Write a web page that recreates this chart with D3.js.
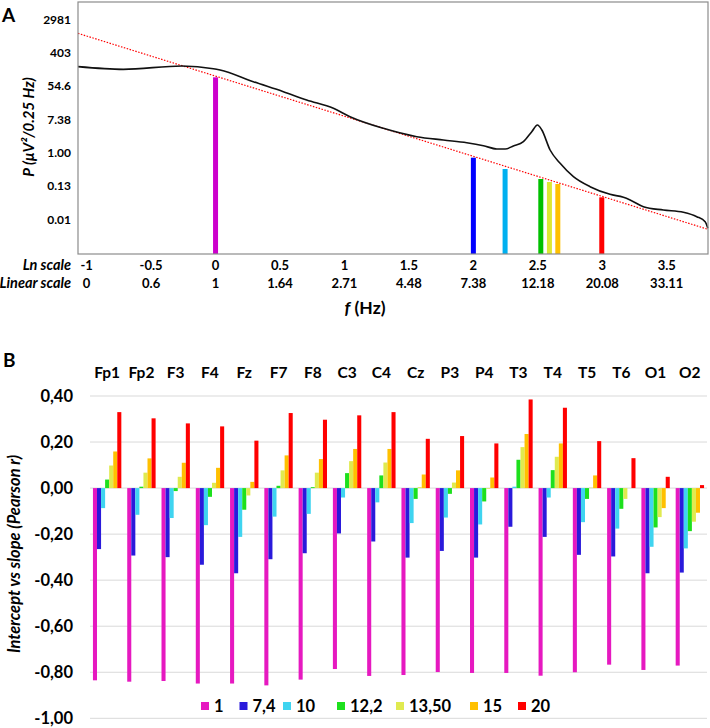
<!DOCTYPE html>
<html><head><meta charset="utf-8">
<script src="https://cdn.jsdelivr.net/npm/d3@7"></script>
<style>
body{margin:0;background:#fff}
text{font-family:Lato,'Open Sans',sans-serif;font-weight:bold;fill:#000}
</style>
</head><body><svg id="c" width="710" height="728"></svg>
<script>
// ---------- Panel A data ----------
const lnTicks = [-1, -0.5, 0, 0.5, 1, 1.5, 2, 2.5, 3, 3.5];
const linTickLabels = ["0", "0.6", "1", "1.64", "2.71", "4.48", "7.38", "12.18", "20.08", "33.11"];
const pTicks = [8, 6, 4, 2, 0, -2, -4];
const pTickLabels = ["2981", "403", "54.6", "7.38", "1.00", "0.13", "0.01"];
const specLnF = [-1.067, -0.715, -0.262, -0.017, 0.035, 0.293, 0.526, 0.707, 0.914, 1.043, 1.302, 1.561, 1.767, 1.949, 2.078, 2.182, 2.246, 2.31, 2.388, 2.453, 2.497, 2.531, 2.595, 2.673, 2.776, 2.905, 3.06, 3.164, 3.216, 3.319, 3.474, 3.629, 3.733, 3.798, 3.819];
const specLnP = [5.16, 5.0, 5.2, 5.04, 4.96, 4.26, 3.66, 3.16, 2.66, 2.16, 1.46, 0.96, 0.76, 0.60, 0.42, 0.22, 0.22, 0.40, 0.66, 1.26, 1.66, 1.36, 0.16, -0.64, -1.44, -2.04, -2.5, -2.68, -2.84, -3.24, -3.44, -3.58, -3.84, -4.14, -4.54];
const fitLnF = [-1.067, 3.82];
const fitLnP = [7.16, -4.6];
const markerLnF = [0, 2.0, 2.246, 2.523, 2.59, 2.655, 2.996];
const markerLnP = [4.52, -0.30, -0.98, -1.58, -1.76, -1.88, -2.68];
const markerColors = ["#cc00cc", "#0000ff", "#00b0f0", "#00c000", "#dde832", "#ffc000", "#ff0000"];

// ---------- Panel B data ----------
const electrodes = ["Fp1","Fp2","F3","F4","Fz","F7","F8","C3","C4","Cz","P3","P4","T3","T4","T5","T6","O1","O2"];
const seriesNames = ["1", "7,4", "10", "12,2", "13,50", "15", "20"];
const seriesColors = ["#e619c0", "#2a1adb", "#3fd4f0", "#1de01d", "#e0ea50", "#ffc000", "#ff0000"];
const r1  = [-0.835,-0.841,-0.838,-0.849,-0.849,-0.857,-0.832,-0.786,-0.816,-0.812,-0.799,-0.803,-0.803,-0.815,-0.800,-0.767,-0.790,-0.771];
const r74 = [-0.265,-0.293,-0.300,-0.333,-0.370,-0.309,-0.283,-0.197,-0.232,-0.302,-0.273,-0.302,-0.168,-0.212,-0.290,-0.297,-0.370,-0.367];
const r10 = [-0.087,-0.116,-0.130,-0.161,-0.212,-0.124,-0.112,-0.041,-0.062,-0.152,-0.128,-0.158,0.006,-0.041,-0.148,-0.176,-0.255,-0.262];
const r122= [0.037,0.006,-0.013,-0.038,-0.094,0.010,0.004,0.065,0.055,-0.047,-0.025,-0.058,0.123,0.078,-0.047,-0.090,-0.171,-0.187];
const r135= [0.098,0.067,0.049,0.023,-0.032,0.077,0.067,0.117,0.111,0.004,0.024,-0.003,0.178,0.136,0.002,-0.047,-0.126,-0.146];
const r15 = [0.159,0.129,0.110,0.088,0.027,0.142,0.126,0.170,0.170,0.059,0.077,0.046,0.235,0.194,0.055,0.000,-0.087,-0.107];
const r20 = [0.330,0.303,0.281,0.268,0.206,0.326,0.297,0.316,0.330,0.214,0.226,0.194,0.385,0.349,0.204,0.130,0.049,0.013];
const rTicks = [0.4, 0.2, 0, -0.2, -0.4, -0.6, -0.8, -1.0];

const svg = d3.select("#c");

// ================= PANEL A =================
const ax = d3.scaleLinear().domain([-1.067, 3.82]).range([78, 708]);
const ay = d3.scaleLinear().domain([-6.08, 9.04]).range([254, 2]);
const gA = svg.append("g");

gA.selectAll("rect.mk").data(markerLnF).join("rect")
  .attr("x", (d) => ax(d) - 2.5).attr("width", 5)
  .attr("y", (d, i) => ay(markerLnP[i]))
  .attr("height", (d, i) => ay(-6.08) - ay(markerLnP[i]))
  .attr("fill", (d, i) => markerColors[i]);

gA.append("path")
  .attr("d", d3.line().x((d) => ax(d)).y((d, i) => ay(fitLnP[i]))(fitLnF))
  .attr("fill", "none").attr("stroke", "#ff0000").attr("stroke-width", 1.2)
  .attr("stroke-dasharray", "1.5,1.5");

gA.append("path")
  .attr("d", d3.line().x((d) => ax(d)).y((d, i) => ay(specLnP[i])).curve(d3.curveMonotoneX)(specLnF))
  .attr("fill", "none").attr("stroke", "#111").attr("stroke-width", 1.6);

gA.append("rect").attr("x", 78).attr("y", 2).attr("width", 630).attr("height", 252)
  .attr("fill", "none").attr("stroke", "#8c8c8c").attr("stroke-width", 1.2);

gA.selectAll("text.yt").data(pTicks).join("text")
  .attr("x", 71).attr("y", (d) => ay(d)).attr("dy", "0.35em")
  .attr("text-anchor", "end").style("font-size", "12px")
  .text((d, i) => pTickLabels[i]);

gA.selectAll("text.ln").data(lnTicks).join("text")
  .attr("x", (d) => ax(d)).attr("y", 270).attr("text-anchor", "middle")
  .style("font-size", "13px").text((d) => String(d));
gA.selectAll("text.lin").data(lnTicks).join("text")
  .attr("x", (d) => ax(d)).attr("y", 287.5).attr("text-anchor", "middle")
  .style("font-size", "13px").text((d, i) => linTickLabels[i]);
gA.append("text").attr("x", 71).attr("y", 270).attr("text-anchor", "end")
  .style("font-size", "14.5px").style("font-style", "italic").text("Ln scale");
gA.append("text").attr("x", 71).attr("y", 287.5).attr("text-anchor", "end")
  .style("font-size", "14.5px").style("font-style", "italic").text("Linear scale");

const ft = gA.append("text").attr("x", 365).attr("y", 314).attr("text-anchor", "middle").style("font-size", "17.5px");
ft.append("tspan").style("font-style", "italic").text("f");
ft.append("tspan").text(" (Hz)");

gA.append("text").attr("transform", "translate(34,127) rotate(-90)")
  .attr("text-anchor", "middle").style("font-size", "15px").style("font-style", "italic")
  .text("P (μV²/0.25 Hz)");

svg.append("text").attr("x", 2).attr("y", 22).style("font-size", "19px").text("A");

// ================= PANEL B =================
const bx = d3.scaleBand().domain(electrodes).range([90, 707]).paddingInner(0.172).paddingOuter(0.086);
const bInner = d3.scaleBand().domain(seriesNames).range([0, bx.bandwidth()]);
const by = d3.scaleLinear().domain([-1.0, 0.4]).range([718.3, 396]);
const gB = svg.append("g");
const allSeries = [r1, r74, r10, r122, r135, r15, r20];

gB.selectAll("line.grid").data(rTicks).join("line")
  .attr("x1", 90).attr("x2", 707).attr("y1", (d) => by(d)).attr("y2", (d) => by(d))
  .attr("stroke", "#d9d9d9").attr("stroke-width", 1);

gB.selectAll("text.yt").data(rTicks).join("text")
  .attr("x", 73).attr("y", (d) => by(d)).attr("dy", "0.35em").attr("text-anchor", "end")
  .style("font-size", "16.5px").text((d) => d3.format(".2f")(d).replace(".", ",").replace("−", "-"));

allSeries.forEach((vals, si) => {
  gB.append("g").selectAll("rect").data(vals).join("rect")
    .attr("x", (d, i) => bx(electrodes[i]) + bInner(seriesNames[si]))
    .attr("width", bInner.bandwidth())
    .attr("y", (d) => by(Math.max(0, d)))
    .attr("height", (d) => Math.abs(by(d) - by(0)))
    .attr("fill", seriesColors[si]);
});

gB.selectAll("text.cat").data(electrodes).join("text")
  .attr("x", (d) => bx(d) + bx.bandwidth() / 2).attr("y", 378).attr("text-anchor", "middle")
  .style("font-size", "15.5px").text((d) => d);

gB.append("text").attr("transform", "translate(19.5,554) rotate(-90)")
  .attr("text-anchor", "middle").style("font-size", "16.5px").style("font-style", "italic")
  .text("Intercept vs slope (Pearson r)");

svg.append("text").attr("x", 3).attr("y", 367).style("font-size", "19px").text("B");

const legX = [201, 239.5, 283, 337, 396, 470, 518];
const leg = gB.append("g");
seriesNames.forEach((n, i) => {
  leg.append("rect").attr("x", legX[i]).attr("y", 702).attr("width", 8).attr("height", 8).attr("fill", seriesColors[i]);
  leg.append("text").attr("x", legX[i] + 13).attr("y", 712).style("font-size", "16.5px").text(n);
});
</script>
</body></html>
